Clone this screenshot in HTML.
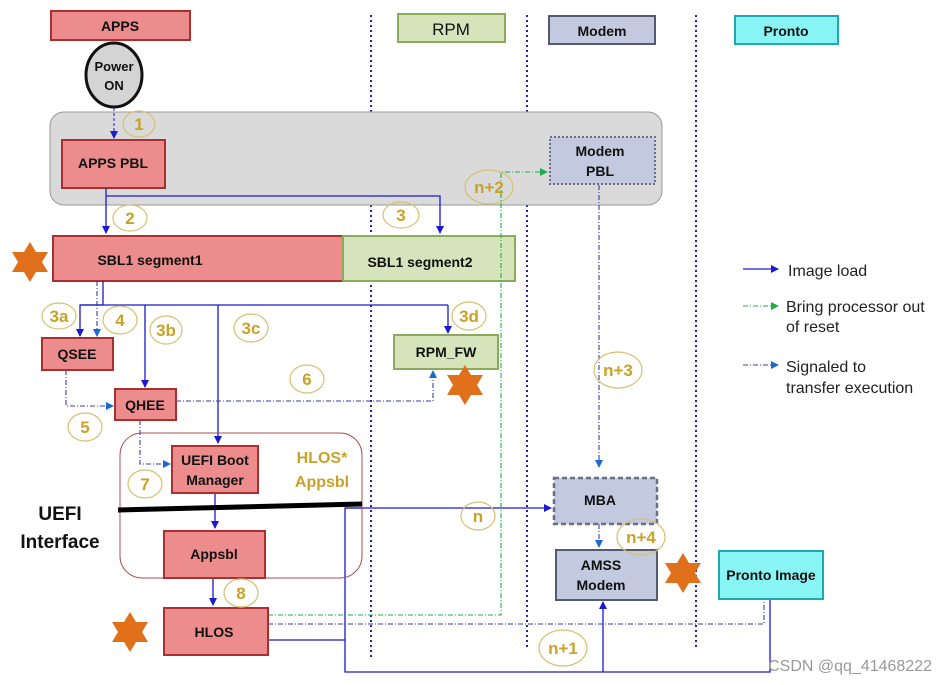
<!DOCTYPE html>
<html><head><meta charset="utf-8"><style>
html,body{margin:0;padding:0;background:#fff;}
svg{display:block;font-family:"Liberation Sans",Arial,sans-serif;}
.b{font-weight:bold;font-size:14px;fill:#111;}
.n{font-weight:bold;font-size:17px;fill:#c9a227;}
</style></head><body>
<svg width="946" height="685" viewBox="0 0 946 685" xmlns="http://www.w3.org/2000/svg">
<defs>
<marker id="a" markerWidth="8" markerHeight="8" refX="7" refY="4" orient="auto" markerUnits="userSpaceOnUse"><path d="M0,0 L8,4 L0,8z" fill="#1a1ad0"/></marker>
<marker id="g" markerWidth="8" markerHeight="8" refX="7" refY="4" orient="auto" markerUnits="userSpaceOnUse"><path d="M0,0 L8,4 L0,8z" fill="#1fae4a"/></marker>
<marker id="c" markerWidth="8" markerHeight="8" refX="7" refY="4" orient="auto" markerUnits="userSpaceOnUse"><path d="M0,0 L8,4 L0,8z" fill="#1a6ad0"/></marker>
<polygon id="star" points="0,-20 6,-10 18,-10 12,0 18,10 6,10 0,20 -6,10 -18,10 -12,0 -18,-10 -6,-10" fill="#e0701a"/>
</defs>
<!-- lane lines -->
<g stroke="#2222aa" stroke-width="2" stroke-dasharray="2,3">
<line x1="371" y1="15" x2="371" y2="660"/><line x1="527" y1="15" x2="527" y2="650"/><line x1="696" y1="15" x2="696" y2="650"/>
</g>
<!-- headers -->
<rect x="51" y="11" width="139" height="29" fill="#ec8c8c" stroke="#a83030" stroke-width="2"/><text x="120" y="31" text-anchor="middle" class="b">APPS</text>
<rect x="398" y="14" width="107" height="28" fill="#d6e4bc" stroke="#8aab5a" stroke-width="2"/><text x="451" y="35" text-anchor="middle" style="font-size:17px;fill:#111">RPM</text>
<rect x="549" y="16" width="106" height="28" fill="#c3c9de" stroke="#555a70" stroke-width="2"/><text x="602" y="36" text-anchor="middle" class="b">Modem</text>
<rect x="735" y="16" width="103" height="28" fill="#88f4f4" stroke="#20a8b0" stroke-width="2"/><text x="786" y="36" text-anchor="middle" class="b">Pronto</text>
<!-- gray band -->
<rect x="50" y="112" width="612" height="93" rx="14" fill="#dadada" stroke="#999" stroke-width="1"/>
<ellipse cx="114" cy="75" rx="28" ry="32" fill="#d4d4d4" stroke="#111" stroke-width="3"/>
<text x="114" y="71" text-anchor="middle" class="b" style="font-size:13px">Power</text><text x="114" y="90" text-anchor="middle" class="b" style="font-size:13px">ON</text>
<line x1="114" y1="108" x2="114" y2="138" stroke="#1a1ad0" stroke-dasharray="3,2" marker-end="url(#a)"/>
<rect x="62" y="140" width="103" height="48" fill="#ec8c8c" stroke="#a83030" stroke-width="2"/><text x="113" y="168" text-anchor="middle" class="b">APPS  PBL</text>
<rect x="550" y="137" width="105" height="47" fill="#c3c9de" stroke="#6a6e88" stroke-width="2" stroke-dasharray="2,2"/>
<text x="600" y="156" text-anchor="middle" class="b">Modem</text><text x="600" y="176" text-anchor="middle" class="b">PBL</text>
<!-- SBL1 -->
<rect x="53" y="236" width="290" height="45" fill="#ec8c8c" stroke="#a83030" stroke-width="2"/><text x="150" y="265" text-anchor="middle" class="b">SBL1  segment1</text>
<rect x="343" y="236" width="172" height="45" fill="#d6e4bc" stroke="#8aab5a" stroke-width="2"/><text x="420" y="267" text-anchor="middle" class="b">SBL1  segment2</text>
<!-- arrows image load -->
<g stroke="#1a1ad0" stroke-width="1.3" fill="none">
<polyline points="106,188 106,233" marker-end="url(#a)"/>
<polyline points="106,196 440,196 440,233" marker-end="url(#a)"/>
<polyline points="103,281 103,305 80,305 80,336" marker-end="url(#a)"/>
<line x1="80" y1="305" x2="448" y2="305"/>
<polyline points="448,305 448,333" marker-end="url(#a)"/>
<polyline points="145,305 145,387" marker-end="url(#a)"/>
<polyline points="218,305 218,443" marker-end="url(#a)"/>
<polyline points="215,493 215,528" marker-end="url(#a)"/>
<polyline points="213,578 213,605" marker-end="url(#a)"/>
<polyline points="268,640 345,640 345,672 770,672 770,592" marker-end="url(#a)"/>
<polyline points="345,640 345,508 363,508"/>
<polyline points="345,508 551,508" marker-end="url(#a)"/>
<polyline points="603,672 603,602" marker-end="url(#a)"/>
<polyline points="743,269 778,269" marker-end="url(#a)"/>
</g>
<!-- signaled dash-dot -->
<g stroke="#3a3ab0" stroke-width="1.1" fill="none" stroke-dasharray="5,2,1,2">
<polyline points="97,281 97,336" marker-end="url(#c)"/>
<polyline points="66,370 66,406 113,406" marker-end="url(#c)"/>
<polyline points="176,401 433,401 433,371" marker-end="url(#c)"/>
<polyline points="140,420 140,464 170,464" marker-end="url(#c)"/>
<polyline points="599,185 599,467" marker-end="url(#c)"/>
<polyline points="599,524 599,547" marker-end="url(#c)"/>
<polyline points="268,624 764,624 764,592" marker-end="url(#c)"/>
<polyline points="743,365 778,365" marker-end="url(#c)"/>
</g>
<!-- green -->
<g stroke="#1fae4a" stroke-width="1.1" fill="none" stroke-dasharray="5,2,1,2">
<polyline points="268,615 501,615 501,172 547,172" marker-end="url(#g)"/>
<polyline points="743,306 778,306" marker-end="url(#g)"/>
</g>
<!-- other boxes -->
<rect x="42" y="338" width="71" height="32" fill="#ec8c8c" stroke="#a83030" stroke-width="2"/><text x="77" y="359" text-anchor="middle" class="b">QSEE</text>
<rect x="115" y="389" width="61" height="31" fill="#ec8c8c" stroke="#a83030" stroke-width="2"/><text x="145" y="410" text-anchor="middle" class="b">QHEE</text>
<rect x="394" y="335" width="104" height="34" fill="#d6e4bc" stroke="#8aab5a" stroke-width="2"/><text x="446" y="357" text-anchor="middle" class="b">RPM_FW</text>
<rect x="120" y="433" width="242" height="145" rx="22" fill="none" stroke="#a85050" stroke-width="1"/>
<rect x="172" y="446" width="86" height="47" fill="#ec8c8c" stroke="#a83030" stroke-width="2"/>
<text x="215" y="465" text-anchor="middle" class="b">UEFI Boot</text><text x="215" y="485" text-anchor="middle" class="b">Manager</text>
<text x="322" y="463" text-anchor="middle" style="font-weight:bold;font-size:16px;fill:#c9a227">HLOS*</text>
<text x="322" y="487" text-anchor="middle" style="font-weight:bold;font-size:16px;fill:#c9a227">Appsbl</text>
<line x1="118" y1="510" x2="362" y2="504" stroke="#000" stroke-width="5"/>
<text x="60" y="520" text-anchor="middle" style="font-weight:bold;font-size:19px;fill:#111">UEFI</text>
<text x="60" y="548" text-anchor="middle" style="font-weight:bold;font-size:19px;fill:#111">Interface</text>
<rect x="164" y="531" width="101" height="47" fill="#ec8c8c" stroke="#a83030" stroke-width="2"/><text x="214" y="559" text-anchor="middle" class="b">Appsbl</text>
<rect x="164" y="608" width="104" height="47" fill="#ec8c8c" stroke="#a83030" stroke-width="2"/><text x="214" y="637" text-anchor="middle" class="b">HLOS</text>
<rect x="554" y="478" width="103" height="46" fill="#c3c9de" stroke="#6a6e88" stroke-width="2.5" stroke-dasharray="5,3"/><text x="600" y="505" text-anchor="middle" class="b">MBA</text>
<rect x="556" y="550" width="101" height="50" fill="#c3c9de" stroke="#555a70" stroke-width="2"/>
<text x="601" y="570" text-anchor="middle" class="b">AMSS</text><text x="601" y="590" text-anchor="middle" class="b">Modem</text>
<rect x="719" y="551" width="104" height="48" fill="#88f4f4" stroke="#20a8b0" stroke-width="2"/><text x="771" y="580" text-anchor="middle" class="b">Pronto Image</text>
<!-- stars -->
<use href="#star" x="30" y="262"/><use href="#star" x="465" y="385"/><use href="#star" x="130" y="632"/><use href="#star" x="683" y="573"/>
<!-- number ellipses -->
<g fill="none" stroke="#d8c070" stroke-width="1.2">
<ellipse cx="139" cy="124" rx="16" ry="13"/><ellipse cx="130" cy="218" rx="17" ry="13"/><ellipse cx="401" cy="215" rx="18" ry="13"/>
<ellipse cx="489" cy="187" rx="24" ry="17"/><ellipse cx="59" cy="316" rx="17" ry="13"/><ellipse cx="120" cy="320" rx="17" ry="14"/>
<ellipse cx="166" cy="330" rx="16" ry="14"/><ellipse cx="251" cy="328" rx="17" ry="14"/><ellipse cx="469" cy="316" rx="17" ry="14"/>
<ellipse cx="307" cy="379" rx="17" ry="14"/><ellipse cx="85" cy="427" rx="17" ry="14"/><ellipse cx="618" cy="370" rx="24" ry="18"/>
<ellipse cx="145" cy="484" rx="17" ry="14"/><ellipse cx="478" cy="516" rx="17" ry="14"/><ellipse cx="641" cy="537" rx="24" ry="18"/>
<ellipse cx="241" cy="593" rx="17" ry="14"/><ellipse cx="563" cy="648" rx="24" ry="18"/>
</g>
<g class="n" text-anchor="middle">
<text x="139" y="130" class="n">1</text><text x="130" y="224" class="n">2</text><text x="401" y="221" class="n">3</text>
<text x="489" y="193" class="n">n+2</text><text x="59" y="322" class="n">3a</text><text x="120" y="326" class="n">4</text>
<text x="166" y="336" class="n">3b</text><text x="251" y="334" class="n">3c</text><text x="469" y="322" class="n">3d</text>
<text x="307" y="385" class="n">6</text><text x="85" y="433" class="n">5</text><text x="618" y="376" class="n">n+3</text>
<text x="145" y="490" class="n">7</text><text x="478" y="522" class="n">n</text><text x="641" y="543" class="n">n+4</text>
<text x="241" y="599" class="n">8</text><text x="563" y="654" class="n">n+1</text>
</g>
<!-- legend text -->
<g style="font-size:16px;fill:#222">
<text x="788" y="276">Image load</text>
<text x="786" y="312">Bring processor out</text><text x="786" y="332">of reset</text>
<text x="786" y="372">Signaled to</text><text x="786" y="393">transfer execution</text>
</g>
<text x="932" y="671" text-anchor="end" style="font-size:16px;fill:#999">CSDN @qq_41468222</text>
</svg>
</body></html>
